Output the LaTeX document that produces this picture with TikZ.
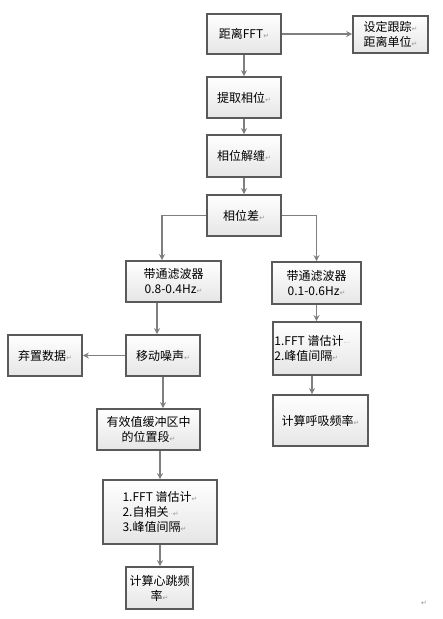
\documentclass[tikz,border=0pt]{standalone}
\usepackage{fontspec}
\setmainfont{Noto Sans CJK SC}
\newfontfamily\symfont{DejaVu Sans}
\usetikzlibrary{arrows.meta,shadows}
\definecolor{boxline}{HTML}{5A5A5A}
\definecolor{arrline}{HTML}{7F7F7F}
\newcommand{\retmark}{{\symfont\fontsize{7}{7}\selectfont\color{gray!80}↵}}
\newcommand{\dotmark}[1]{{\symfont\fontsize{7}{7}\selectfont\color{gray!50}#1}}
\begin{document}
\begin{tikzpicture}[x=1pt,y=-1pt,
  box/.style={draw=boxline, line width=1.6pt, top color=white, bottom color=gray!20,
    align=center, inner sep=2pt, font=\fontsize{12}{15}\selectfont,
    drop shadow={shadow xshift=1pt, shadow yshift=-1pt, opacity=0.25}},
  arr/.style={draw=arrline, line width=1.8pt, -{Stealth[length=6pt,width=6pt]}}]
\useasboundingbox (0,0) rectangle (443,619);
\fill[white] (0,0) rectangle (443,619);
% nodes
\node[box, minimum width=74pt, minimum height=40pt] (fft) at (244,34) {距离FFT\retmark};
\node[box, minimum width=75pt, minimum height=37pt, align=left] (unit) at (390.5,34.5) {设定跟踪\retmark\\距离单位\retmark};
\node[box, minimum width=74pt, minimum height=41pt] (ext) at (244,97.5) {提取相位\retmark};
\node[box, minimum width=74pt, minimum height=42pt] (unw) at (244,156) {相位解缠\retmark};
\node[box, minimum width=74pt, minimum height=41pt] (diff) at (244,215.5) {相位差\retmark};
\node[box, minimum width=95pt, minimum height=41pt] (bpL) at (173.5,281.5) {带通滤波器\\0.8-0.4Hz\retmark};
\node[box, minimum width=89pt, minimum height=42pt] (bpR) at (316.5,283) {带通滤波器\\0.1-0.6Hz\retmark};
\node[box, minimum width=74pt, minimum height=41pt] (drop) at (45,355.5) {弃置数据\retmark};
\node[box, minimum width=74pt, minimum height=41pt] (move) at (163,355.5) {移动噪声\retmark};
\node[box, minimum width=103pt, minimum height=41pt] (buf) at (148.5,429.5) {有效值缓冲区中\\的位置段\retmark};
\node[box, minimum width=114pt, minimum height=64pt, align=left] (specL) at (160,512) {1.FFT 谱估计\retmark\\2.自相关\dotmark{··}\retmark\\3.峰值间隔\retmark};
\node[box, minimum width=88pt, minimum height=53pt] (specR) at (317,348.5) {};
\node[anchor=west, inner sep=0pt, align=left, font=\fontsize{12}{15}\selectfont] (specRtext) at ([xshift=2pt]specR.west) {1.FFT 谱估计\dotmark{···}\\2.峰值间隔\retmark};
\node[box, minimum width=95pt, minimum height=51pt] (resp) at (320.5,420.5) {计算呼吸频率\retmark};
\node[box, minimum width=67pt, minimum height=42pt] (heart) at (159.5,588) {计算心跳频\\率\retmark};
\node[inner sep=0pt] (endmark) at (424,603) {\retmark};
% connectors
\draw[arr] (fft) -- (ext);
\draw[arr] (ext) -- (unw);
\draw[arr] (unw) -- (diff);
\draw[arr] (fft.east) -- (unit.west |- fft.east);
\draw[arr] (diff.west) -| ([xshift=-11.5pt]bpL.north);
\draw[arr] (diff.east) -| (bpR.north);
\draw[arr] ([xshift=-16.5pt]bpL.south) -- ([xshift=-6pt]move.north);
\draw[arr] (move.west) -- (drop.east);
\draw[arr] (move.south) -- (move.south |- buf.north);
\draw[arr] (specL.north |- buf.south) -- (specL.north);
\draw[arr] (specL.south) -- (specL.south |- heart.north);
\draw[arr] (bpR.south) -- (bpR.south |- specR.north);
\draw[arr] ([xshift=-5pt]specR.south) -- ([xshift=-8.5pt]resp.north);
\end{tikzpicture}
\end{document}
